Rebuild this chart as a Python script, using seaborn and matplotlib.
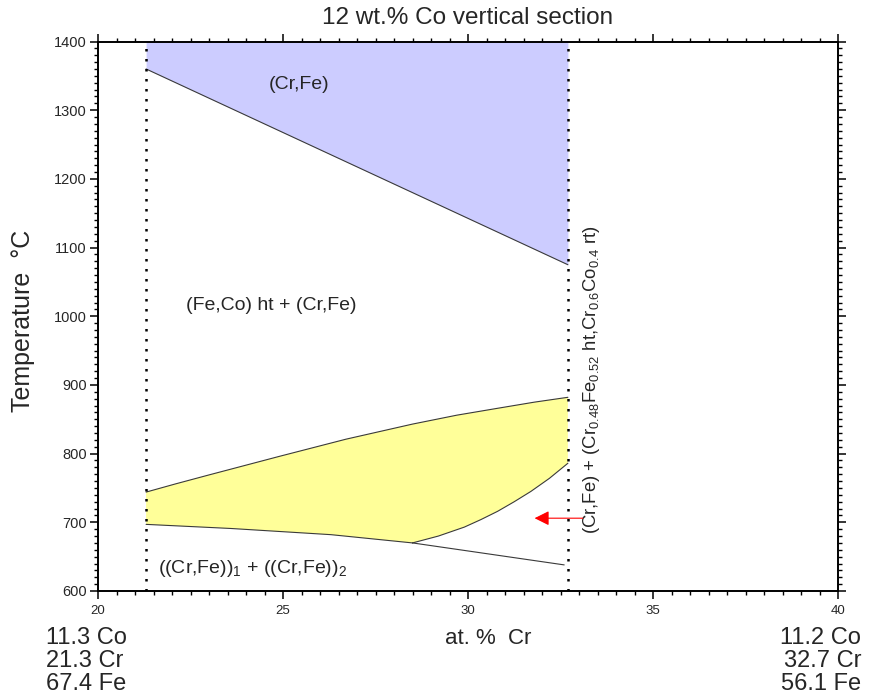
import matplotlib
matplotlib.use("Agg")
import matplotlib.pyplot as plt
import seaborn as sns
from matplotlib.ticker import MultipleLocator

# Section limits (at.% Cr)
cr_left = 21.3
cr_right = 32.7

# Lower boundary of the (Cr,Fe) single-phase field
bcc_cr = [21.3, 32.7]
bcc_T = [1360, 1075]

# Upper boundary of the lower two-phase field
upper_cr = [21.3, 22.1, 23.0, 24.9, 26.7, 28.5, 29.7, 30.8, 31.8, 32.7]
upper_T = [744, 756, 769, 796, 821, 843, 856, 866, 875, 882]

# Lower boundary, left part down to the kink
lower_cr = [21.3, 23.6, 26.3, 28.5]
lower_T = [697, 691, 682, 670]

# Boundary continuing below the kink
tail_cr = [28.5, 32.6]
tail_T = [670, 638]

# Curved boundary rising from the kink to the right limit
solvus_cr = [28.5, 29.2, 29.9, 30.35, 30.8, 31.25, 31.7, 32.2, 32.7]
solvus_T = [670, 680, 693, 704, 716, 730, 745, 764, 786]

x_ticks = [20, 25, 30, 35, 40]
y_ticks = [600, 700, 800, 900, 1000, 1100, 1200, 1300, 1400]

left_comp = ["11.3 Co", "21.3 Cr", "67.4 Fe"]
right_comp = ["11.2 Co", "32.7 Cr", "56.1 Fe"]

sns.set_style("ticks")
plt.rcParams["font.family"] = ["Liberation Sans", "DejaVu Sans"]
plt.rcParams["mathtext.fontset"] = "custom"
plt.rcParams["mathtext.rm"] = "Liberation Sans"
plt.rcParams["mathtext.it"] = "Liberation Sans:italic"
plt.rcParams["mathtext.bf"] = "Liberation Sans:bold"

W, H = 877, 696
fig = plt.figure(figsize=(W / 100, H / 100), dpi=100)
ax = fig.add_axes([98 / W, 1 - 591 / H, 740 / W, 549.5 / H])

line_kw = dict(color="#3a3a3a", linewidth=0.8, estimator=None, sort=False, legend=False)

# (Cr,Fe) field
ax.fill_between(bcc_cr, bcc_T, 1400, color="#CCCCFF", linewidth=0, zorder=1)
sns.lineplot(x=bcc_cr, y=bcc_T, ax=ax, **line_kw)

# Lower two-phase field
poly_x = upper_cr + solvus_cr[::-1] + lower_cr[::-1]
poly_T = upper_T + solvus_T[::-1] + lower_T[::-1]
ax.fill(poly_x, poly_T, color="#FFFF99", linewidth=0, zorder=1)
sns.lineplot(x=upper_cr, y=upper_T, ax=ax, **line_kw)
sns.lineplot(x=lower_cr, y=lower_T, ax=ax, **line_kw)
sns.lineplot(x=tail_cr, y=tail_T, ax=ax, **line_kw)
sns.lineplot(x=solvus_cr, y=solvus_T, ax=ax, **line_kw)

# Section limits
for xv in (cr_left, cr_right):
    ax.axvline(xv, color="black", linewidth=1.8, linestyle=(0, (1, 3)), zorder=3)

ax.set_xlim(20, 40)
ax.set_ylim(600, 1400)
ax.set_xticks(x_ticks)
ax.set_yticks(y_ticks)
ax.xaxis.set_minor_locator(MultipleLocator(0.5))
ax.yaxis.set_minor_locator(MultipleLocator(10))
ax.tick_params(which="both", direction="out", top=True, right=True,
               labeltop=False, labelright=False, color="black")
ax.tick_params(which="major", length=6, width=1.1)
ax.tick_params(which="minor", length=3, width=1.0)
ax.tick_params(axis="x", which="major", labelsize=9.5, pad=4)
ax.tick_params(axis="y", which="major", labelsize=10.5, pad=2)
for sp in ax.spines.values():
    sp.set_visible(True)
    sp.set_linewidth(1.4)
    sp.set_color("black")
ax.set_xlabel("")
ax.set_ylabel("")

# Phase field labels
ax.text(25.43, 1338, "(Cr,Fe)", ha="center", va="center", fontsize=14)
ax.text(24.68, 1016, "(Fe,Co) ht + (Cr,Fe)", ha="center", va="center", fontsize=14)
ax.text(21.62, 633, r"((Cr,Fe))$_1$ + ((Cr,Fe))$_2$", ha="left", va="center", fontsize=14)
ax.text(33.35, 907,
        r"(Cr,Fe) + (Cr$_{0.48}$Fe$_{0.52}$ ht,Cr$_{0.6}$Co$_{0.4}$ rt)",
        ha="center", va="center", rotation=90, fontsize=13.3)
ax.annotate("", xy=(31.8, 706), xytext=(33.1, 706),
            arrowprops=dict(arrowstyle="-|>", color="red", lw=0.8,
                            mutation_scale=22, shrinkA=0, shrinkB=0))

# Title, axis labels and end compositions
fig.text(468 / W, 1 - 18 / H, "12 wt.% Co vertical section", ha="center", va="center", fontsize=17.5)
fig.text(23.5 / W, 1 - 321 / H, "Temperature  °C", ha="center", va="center",
         rotation=90, fontsize=18)
fig.text(488 / W, 1 - 644 / H, "at. %  Cr", ha="center", va="baseline", fontsize=16)
for i, (lt, rt) in enumerate(zip(left_comp, right_comp)):
    yb = 1 - (644 + 23 * i) / H
    fig.text(46 / W, yb, lt, ha="left", va="baseline", fontsize=17)
    fig.text(861 / W, yb, rt, ha="right", va="baseline", fontsize=17)

fig.savefig("out.png", dpi=100)
